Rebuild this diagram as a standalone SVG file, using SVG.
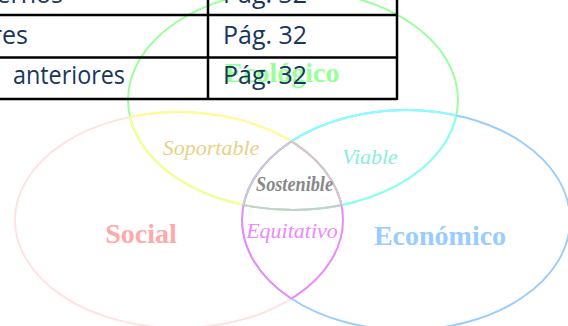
<svg xmlns="http://www.w3.org/2000/svg" width="568" height="326" viewBox="0 0 568 326">
<style>
.e{fill:none;stroke-width:1.9}
.big{font-family:"Liberation Serif",serif;font-weight:bold;font-size:28px;text-anchor:middle}
.it{font-family:"Liberation Serif",serif;font-style:italic;font-size:22px;text-anchor:middle}
.tt{font-family:"Open Sans","Liberation Sans",sans-serif;font-size:25px;fill:#17365d}
.tl{fill:none;stroke:#000;stroke-width:2.5}
</style>
<defs>
<ellipse id="eEco" cx="293" cy="100" rx="165" ry="110"/>
<ellipse id="eSoc" cx="179" cy="220" rx="164" ry="108"/>
<ellipse id="eEcn" cx="406" cy="220" rx="164" ry="110"/>
<clipPath id="cEco"><use href="#eEco"/></clipPath>
<clipPath id="cSoc"><use href="#eSoc"/></clipPath>
<clipPath id="cEcn"><use href="#eEcn"/></clipPath>
</defs>
<g id="ecologico">
<use href="#eEco" class="e" stroke="#99ff99"/>
<use href="#eEco" class="e" stroke="#ffff88" clip-path="url(#cSoc)"/>
<use href="#eEco" class="e" stroke="#88ffff" clip-path="url(#cEcn)"/>
<g clip-path="url(#cSoc)"><use href="#eEco" class="e" stroke="#cccccc" clip-path="url(#cEcn)"/></g>
<text class="big" x="282" y="82" fill="#99ff99">Ecológico</text>
</g>
<g id="social">
<use href="#eSoc" class="e" stroke="#ffe2e2"/>
<use href="#eSoc" class="e" stroke="#ffff88" clip-path="url(#cEco)"/>
<use href="#eSoc" class="e" stroke="#ee88ff" clip-path="url(#cEcn)"/>
<g clip-path="url(#cEco)"><use href="#eSoc" class="e" stroke="#cccccc" clip-path="url(#cEcn)"/></g>
<text class="big" x="141" y="243" fill="#ffaaaa">Social</text>
</g>
<g id="economico">
<use href="#eEcn" class="e" stroke="#99ccff"/>
<use href="#eEcn" class="e" stroke="#88ffff" clip-path="url(#cEco)"/>
<use href="#eEcn" class="e" stroke="#ee88ff" clip-path="url(#cSoc)"/>
<g clip-path="url(#cEco)"><use href="#eEcn" class="e" stroke="#cccccc" clip-path="url(#cSoc)"/></g>
<text class="big" x="440" y="245" fill="#99ccff">Económico</text>
</g>
<g id="soportable"><text class="it" x="211" y="155" fill="#e8d088">Soportable</text></g>
<g id="viable"><text class="it" x="370" y="164" fill="#88eedd">Viable</text></g>
<g id="sostenible"><text class="it" x="294.5" y="191" fill="#888888" font-weight="bold" font-size="17px" textLength="77" lengthAdjust="spacingAndGlyphs">Sostenible</text></g>
<g id="equitativo"><text class="it" x="292" y="238" fill="#ee88ff">Equitativo</text></g>
<g id="tabla">
<line class="tl" x1="0" y1="15" x2="397" y2="15"/>
<line class="tl" x1="0" y1="57.5" x2="397" y2="57.5"/>
<line class="tl" x1="0" y1="99" x2="397" y2="99"/>
<line class="tl" x1="208" y1="0" x2="208" y2="100"/>
<line class="tl" x1="397" y1="0" x2="397" y2="100"/>
<text class="tt" x="63" y="3" text-anchor="end">externos</text>
<text class="tt" x="223" y="3" textLength="84" lengthAdjust="spacingAndGlyphs">Pág. 32</text>
<text class="tt" x="28" y="44" text-anchor="end">res</text>
<text class="tt" x="223" y="44" textLength="84" lengthAdjust="spacingAndGlyphs">Pág. 32</text>
<text class="tt" x="13" y="84" textLength="112" lengthAdjust="spacingAndGlyphs">anteriores</text>
<text class="tt" x="223" y="84" textLength="84" lengthAdjust="spacingAndGlyphs">Pág. 32</text>
</g>
</svg>
